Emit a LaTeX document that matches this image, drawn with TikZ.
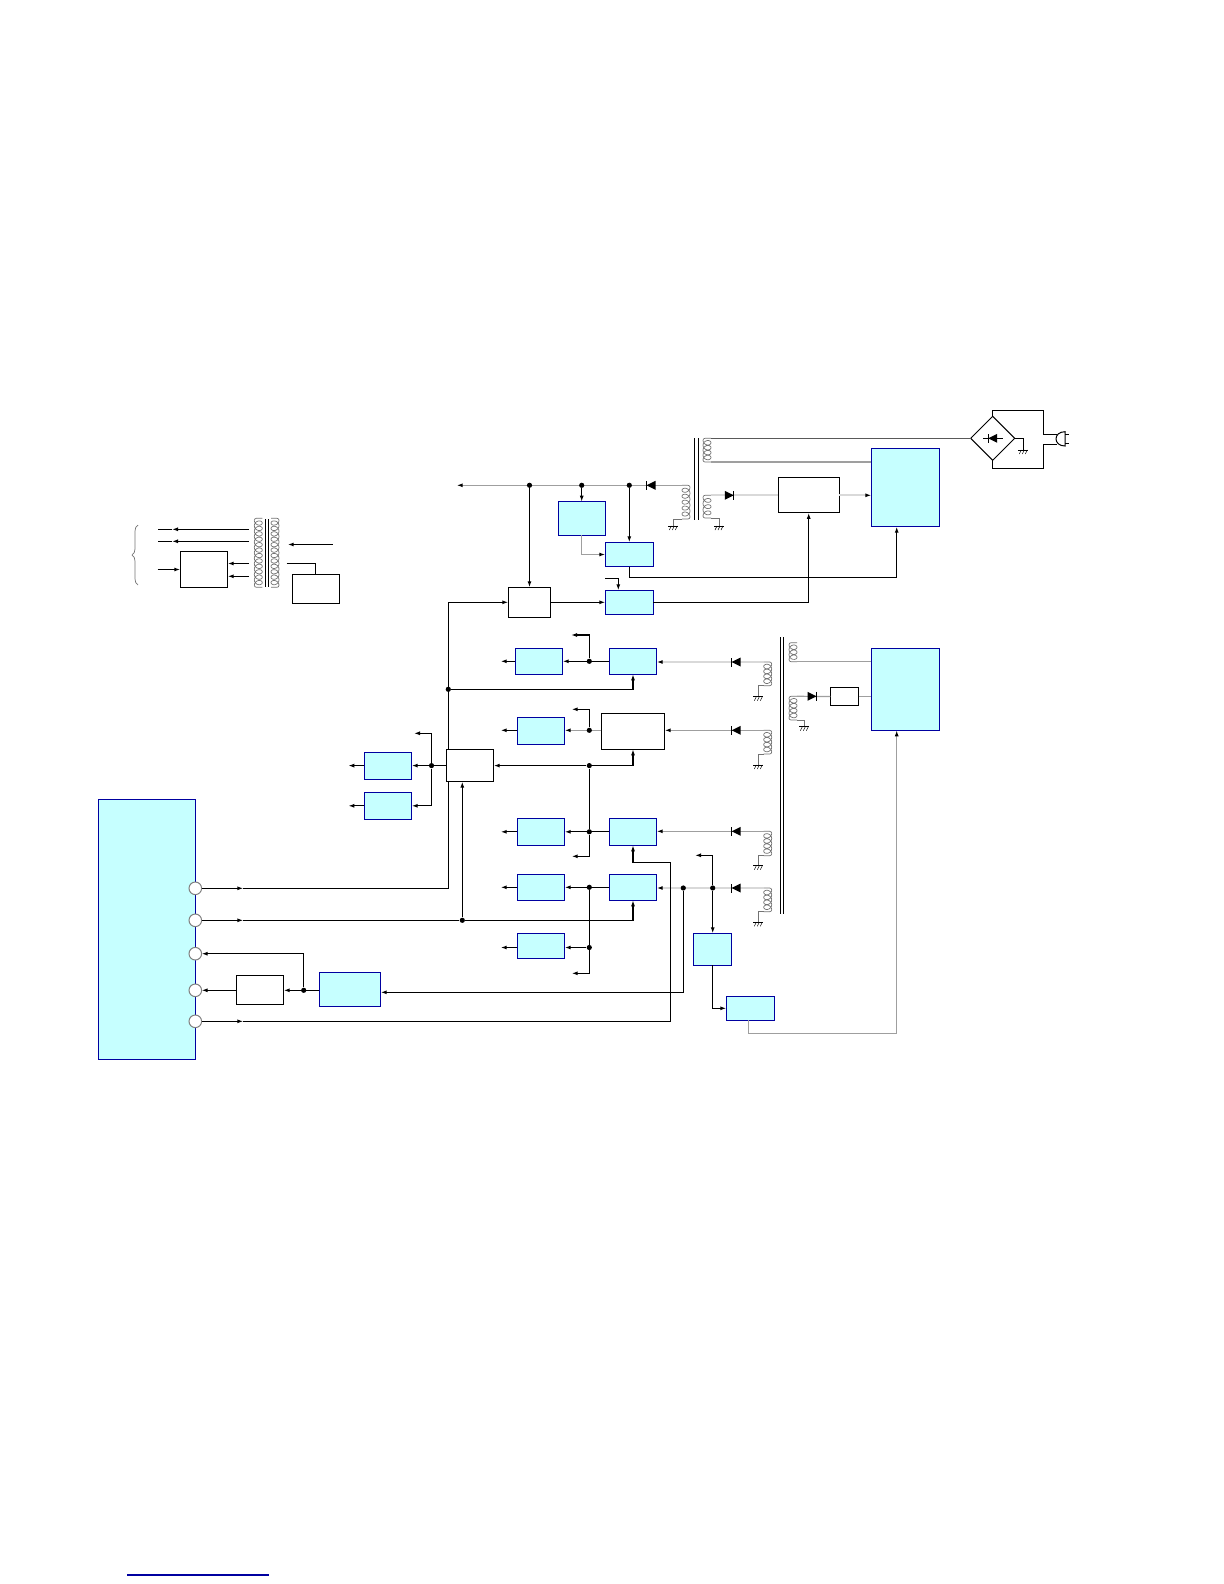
\documentclass[tikz,border=0pt]{standalone}
\usetikzlibrary{arrows.meta,shapes.geometric,decorations.pathreplacing}
\definecolor{boxfill}{RGB}{198,255,255}
\definecolor{boxline}{RGB}{0,0,160}
\tikzset{
    sz/.style 2 args={minimum width=#1*0.5pt, minimum height=#2*0.5pt},
    bluebox/.style={draw=boxline, fill=boxfill, line width=0.6pt, inner sep=0pt, outer sep=0pt},
    whitebox/.style={draw=black, fill=white, line width=0.6pt, inner sep=0pt, outer sep=0pt},
    wire/.style={line width=0.6pt},
    grayline/.style={line width=0.6pt, gray!75},
    lightline/.style={line width=1pt, gray!30},
    coilline/.style={line width=0.35pt, gray!90!black},
    tip/.style={-{Latex[length=3pt,width=2pt,color=black]}},
    dot/.style={circle, fill=black, inner sep=0pt, minimum size=2.6pt},
    pinring/.style={circle, draw=gray, fill=white, line width=0.5pt, inner sep=0pt, outer sep=0pt, minimum size=6.3pt},
    diode/.pic={
        \fill[black] (-4.5,-4.5) -- (-4.5,4.5) -- (4.5,0) -- cycle;
        \draw[line width=0.5pt] (4.5,-4.5) -- (4.5,4.5);
    },
    gnd/.pic={
        \draw[line width=0.5pt] (-5,0) -- (5,0);
        \draw[line width=0.25pt] (-2,0) -- (-4,4) (1,0) -- (-1,4) (4,0) -- (2,4);
    }
}
% winding: edge x, top y, bottom y, side (+1/-1), name
\newcommand{\winding}[5]{
    \pgfmathtruncatemacro{\coilturns}{round((#3-#2-4)/5.5)}
    \pgfmathtruncatemacro{\coilsamples}{\coilturns*16+1}
    \draw[coilline, rounded corners=1pt] (#1+#4*8,#2) -- (#1,#2) -- (#1,#2+2);
    \draw[coilline, rounded corners=1pt] (#1+#4*8,#3) -- (#1,#3) -- (#1,#3-2);
    \draw[coilline, variable=\t, samples=\coilsamples, domain=0:\coilturns*360, smooth]
        plot ({#1+#4*4*(1-cos(\t))}, {#2+2+\t/(360*\coilturns)*(#3-#2-4)+3.4*sin(\t)});
    \coordinate (#5t) at (#1+#4*8,#2);
    \coordinate (#5b) at (#1+#4*8,#3);
}
\begin{document}
\begin{tikzpicture}[x=0.5pt, y=-0.5pt]
    \useasboundingbox (0,0) rectangle (1224,1584);
    % blue blocks
    \node[bluebox, sz={97}{260}] (main) at (146.8,929.5) {};
    \node[bluebox, sz={68}{78.4}] (ctlA) at (905.3,487.5) {};
    \node[bluebox, sz={68}{82}] (ctlB) at (905.3,689.3) {};
    \node[bluebox, sz={47}{33.6}] (regTop) at (581.7,518.5) {};
    \node[bluebox, sz={48}{24.4}] (regA) at (629.3,554.5) {};
    \node[bluebox, sz={48}{24}] (regB) at (629.3,602.3) {};
    \node[bluebox, sz={47.4}{26}] (outA) at (539,661.3) {};
    \node[bluebox, sz={47.4}{26}] (regC) at (633,661.3) {};
    \node[bluebox, sz={47.4}{27}] (outB) at (541,730.8) {};
    \node[bluebox, sz={47.4}{27}] (outC) at (541,831.8) {};
    \node[bluebox, sz={47.4}{27}] (regD) at (633,831.8) {};
    \node[bluebox, sz={47.4}{26}] (outD) at (541,887.3) {};
    \node[bluebox, sz={47.4}{26}] (regE) at (633,887.3) {};
    \node[bluebox, sz={47.4}{25}] (outE) at (541,945.8) {};
    \node[bluebox, sz={47.4}{27}] (outF) at (388,765.6) {};
    \node[bluebox, sz={47.4}{27}] (outG) at (388,805.8) {};
    \node[bluebox, sz={38.4}{32}] (swA) at (712.5,949.3) {};
    \node[bluebox, sz={48.4}{24}] (swB) at (750.5,1008.3) {};
    \node[bluebox, sz={61.4}{34}] (drv) at (350,989.3) {};
    % white blocks
    \node[whitebox, sz={61}{35}] (stb) at (808.8,495.3) {};
    \node[whitebox, sz={42}{30}] (selA) at (529.3,602.3) {};
    \node[whitebox, sz={63.4}{36}] (selB) at (633,731.3) {};
    \node[whitebox, sz={47.4}{32}] (selC) at (470,765.6) {};
    \node[whitebox, sz={47.4}{29}] (amp) at (260,990.3) {};
    \node[whitebox, sz={28.4}{18.6}] (fbk) at (844.5,696.5) {};
    \node[whitebox, sz={47.4}{36.4}] (tapBox) at (204,569.5) {};
    \node[whitebox, sz={47}{29}] (auxBox) at (315.8,588.8) {};
    % pins on the main block
    \node[pinring] (pinA) at (195.3,888.3) {};
    \node[pinring] (pinB) at (195.3,920.3) {};
    \node[pinring] (pinC) at (195.3,953.7) {};
    \node[pinring] (pinD) at (195.3,990.3) {};
    \node[pinring] (pinE) at (195.3,1021.3) {};
    % junctions
    \node[dot] (jA) at (448.3,689.3) {};
    \node[dot] (jB) at (589.3,765.6) {};
    \node[dot] (jC) at (589.3,831.8) {};
    \node[dot] (jD) at (589.3,887.3) {};
    \node[dot] (jE) at (462.3,920.3) {};
    \node[dot] (jF) at (431.5,765.6) {};
    \node[dot] (jG) at (589.3,947.5) {};
    \node[dot] (jI) at (589.3,661.3) {};
    \node[dot] (jL) at (303.7,990.3) {};
    % free ends and corners
    \coordinate (railEnd) at (456.7,485.3);
    \coordinate (busA) at (448.3,888.3);
    \coordinate (busE) at (670.7,1021.3);
    \coordinate (busF) at (670.7,862.7);
    \coordinate (tickA) at (243.3,888.3);
    \coordinate (tickB) at (243.3,920.3);
    \coordinate (tickE) at (243.3,1021.3);
    \coordinate (drvIn) at (380.7,992.3);
    \coordinate (retA) at (896.7,577.3);
    \coordinate (retS) at (808.7,602.3);
    \coordinate (retB) at (748.7,1033.3);
    \coordinate (retC) at (896.7,1033.3);
    \coordinate (stubB) at (605.3,578.3);
    \coordinate (stubC) at (618.3,590.3);
    \coordinate (endA) at (500.7,661.3);
    \coordinate (endB) at (500.7,730.3);
    \coordinate (endC) at (500.7,831.8);
    \coordinate (endD) at (500.7,887.3);
    \coordinate (endE) at (500.7,947.5);
    \coordinate (endF) at (348.3,765.6);
    \coordinate (endG) at (348.3,805.8);
    \coordinate (upF) at (414,733.3);
    \coordinate (upH) at (571.7,709.3);
    \coordinate (upI) at (571,635);
    \coordinate (dnC) at (571.7,856.3);
    \coordinate (dnE) at (571.7,973.3);
    \coordinate (upK) at (695,855.3);
    % upper transformer
    \draw[wire] (694.3,438) -- (694.3,519.5);
    \draw[wire] (698.7,438) -- (698.7,519.5);
    \winding{703}{438.3}{462}{1}{priA}
    \winding{703}{495.3}{518}{1}{secB}
    \winding{690}{485.3}{519}{-1}{secA}
    \node[diamond, draw, aspect=1, sz={44}{44}, inner sep=0pt, outer sep=0pt, line width=0.5pt] (bridge) at (992.7,438.3) {};
    \draw[grayline, black!65] (priAt) -- (bridge.west);
    \draw[grayline] (priAb) -- (ctlA.west |- priAb);
    \draw[lightline] (secBt) -- (stb.west);
    \draw[lightline, tip] (stb.east) -- (ctlA.west |- stb.east);
    \draw[grayline, tip] (secAt) -- (railEnd);
    \node[dot] (jrA) at (529.5,485.3) {};
    \node[dot] (jrB) at (581.7,485.3) {};
    \node[dot] (jrC) at (629.3,485.3) {};
    \pic at (729.3,495.3) {diode};
    \pic[rotate=180] at (651,485.3) {diode};
    \coordinate (gndA) at (673.3,526);
    \coordinate (gndB) at (719,526);
    \coordinate (gndC) at (1023.3,450);
    \draw[coilline] (secAb) -| (gndA);
    \draw[coilline] (secBb) -| (gndB);
    \pic at (gndA) {gnd};
    \pic at (gndB) {gnd};
    % bridge and plug
    \pic[rotate=180] at (992.7,438.3) {diode};
    \draw[line width=0.5pt] (983.3,438.3) -- (1002.7,438.3);
    \coordinate (brT) at (1043.3,410.3);
    \coordinate (brB) at (1043.3,468.3);
    \coordinate (plugA) at (1056.7,434.3);
    \coordinate (plugB) at (1056.7,444.3);
    \draw[wire] (bridge.north) |- (brT) |- (plugA);
    \draw[wire] (bridge.south) |- (brB) |- (plugB);
    \draw[wire] (bridge.east) -| (gndC);
    \pic at (gndC) {gnd};
    \draw[line width=0.5pt] (1065,431.7) .. controls (1053,431.7) and (1053,446) .. (1065,446) -- cycle;
    \draw[line width=0.5pt] (1065,434.3) -- (1069,434.3) (1065,443.3) -- (1069,443.3);
    % rail and top regulators
    \draw[wire, tip] (jrA) -- (selA.north -| jrA);
    \draw[wire, tip] (jrB) -- (regTop.north);
    \draw[wire, tip] (jrC) -- (regA.north);
    \draw[grayline, tip] (regTop.south) |- (regA.west);
    \draw[wire] (regA.south) |- (retA);
    \draw[wire, tip] (retA) -- (ctlA.south -| retA);
    \draw[wire] (regB.east) -- (retS);
    \draw[wire, tip] (retS) -- (stb.south -| retS);
    \draw[wire, tip] (stubB) -| (regB.north -| stubC);
    \draw[wire, tip] (selA.east) -- (regB.west);
    % lower transformer
    \draw[wire] (780.3,637.3) -- (780.3,914);
    \draw[wire] (783.3,637.3) -- (783.3,914);
    \winding{771.7}{662}{685.7}{-1}{secC}
    \winding{771.7}{730.3}{754}{-1}{secD}
    \winding{771.7}{831.3}{855.7}{-1}{secE}
    \winding{771.7}{888}{911.7}{-1}{secF}
    \winding{789}{642.7}{661.7}{1}{secG}
    \winding{789}{696.3}{720}{1}{secH}
    \draw[lightline, tip] (secCt) -- (regC.east |- secCt);
    \draw[grayline, tip] (secDt) -- (selB.east |- secDt);
    \draw[grayline, tip] (secEt) -- (regD.east |- secEt);
    \draw[lightline, tip] (secFt) -- (regE.east |- secFt);
    \node[dot] (jJ) at (683.3,888) {};
    \node[dot] (jK) at (712.7,888) {};
    \draw[grayline] (secGb) -- (ctlB.west |- secGb);
    \draw[grayline] (secHt) -- (fbk.west);
    \draw[grayline] (fbk.east) -- (ctlB.west |- fbk.east);
    \pic[rotate=180] at (736.2,662) {diode};
    \pic[rotate=180] at (736.2,730.3) {diode};
    \pic[rotate=180] at (736.2,831.3) {diode};
    \pic[rotate=180] at (736.2,888) {diode};
    \pic at (812,696.3) {diode};
    \coordinate (gndD) at (758.3,696.7);
    \coordinate (gndE) at (758.3,765);
    \coordinate (gndF) at (758.3,865.7);
    \coordinate (gndG) at (758.3,922.3);
    \coordinate (gndH) at (804.3,726.7);
    \draw[coilline] (secCb) -| (gndD);
    \draw[coilline] (secDb) -| (gndE);
    \draw[coilline] (secEb) -| (gndF);
    \draw[coilline] (secFb) -| (gndG);
    \draw[coilline] (secHb) -| (gndH);
    \pic at (gndD) {gnd};
    \pic at (gndE) {gnd};
    \pic at (gndF) {gnd};
    \pic at (gndG) {gnd};
    \pic at (gndH) {gnd};
    % output rows
    \draw[wire, tip] (outA.west) -- (endA);
    \draw[wire, tip] (outB.west |- endB) -- (endB);
    \draw[wire, tip] (outC.west) -- (endC);
    \draw[wire, tip] (outD.west) -- (endD);
    \draw[wire, tip] (outE.west |- endE) -- (endE);
    \draw[wire, tip] (outF.west) -- (endF);
    \draw[wire, tip] (outG.west) -- (endG);
    \draw[wire, tip] (regC.west) -- (outA.east);
    \draw[wire, tip] (jI) |- (upI);
    \draw[grayline, tip] (selB.west |- endB) -- (outB.east |- endB);
    \node[dot] (jH) at (589.3,730.3) {};
    \draw[wire, tip] (jH) |- (upH);
    \draw[wire, tip] (regD.west) -- (outC.east);
    \draw[wire, tip] (jC) |- (dnC);
    \draw[wire] (jB) -- (jC);
    \draw[wire, tip] (regE.west) -- (outD.east);
    \draw[wire, tip] (jD) |- (dnE);
    \draw[wire, tip] (jG) -- (outE.east |- jG);
    \draw[wire, tip] (jB) -- (selC.east);
    \draw[wire, tip] (jB) -| (selB.south);
    \draw[wire, tip] (selC.west) -- (outF.east);
    \draw[wire, tip] (jF) |- (upF);
    \draw[wire, tip] (jF) |- (outG.east);
    % bus wires from the pins
    \draw[wire, tip] (pinA) -- (tickA);
    \draw[wire] (tickA) -- (busA) -- (selC.south -| busA);
    \draw[wire, tip] (selC.north -| busA) |- (selA.west);
    \draw[wire, tip] (jA) -| (regC.south);
    \draw[wire, tip] (pinB) -- (tickB);
    \draw[wire] (tickB) -- (jE);
    \draw[wire, tip] (jE) -| (regE.south);
    \draw[wire, tip] (jE) -- (selC.south -| jE);
    \draw[wire, tip] (pinE) -- (tickE);
    \draw[wire] (tickE) -- (busE) -- (busF);
    \draw[wire, tip] (busF) -| (regD.south);
    % switch branch
    \draw[wire, tip] (jK) -- (swA.north -| jK);
    \draw[wire, tip] (jK) |- (upK);
    \draw[wire, tip] (swA.south -| jK) |- (swB.west);
    \draw[grayline] (swB.south -| retB) -- (retB) -- (retC);
    \draw[grayline, tip] (retC) -- (ctlB.south -| retC);
    \draw[wire, tip] (jJ) |- (drvIn);
    \draw[wire, tip] (drv.west |- jL) -- (amp.east);
    \draw[wire, tip] (amp.west) -- (pinD.east);
    \draw[wire, tip] (jL) |- (pinC.east);
    % small transformer, upper left
    \draw[wire] (265.3,519) -- (265.3,586.5);
    \draw[wire] (268.3,519) -- (268.3,586.5);
    \winding{254.3}{518.3}{587.3}{1}{winL}
    \winding{279}{518.3}{587.3}{-1}{winR}
    \coordinate (tapA) at (249,529.3);
    \coordinate (tapB) at (249,541.3);
    \coordinate (tapC) at (249,563.5);
    \coordinate (tapD) at (249,576.3);
    \coordinate (midA) at (172,529.3);
    \coordinate (midB) at (172,541.3);
    \coordinate (leftA) at (157.7,529.3);
    \coordinate (leftB) at (157.7,541.3);
    \coordinate (leftC) at (157.7,569.5);
    \coordinate (feedA) at (332.7,544.5);
    \coordinate (feedB) at (287.7,544.5);
    \coordinate (feedC) at (286.7,563.3);
    \draw[wire, tip] (tapA) -- (midA);
    \draw[wire] (midA) -- (leftA);
    \draw[wire, tip] (tapB) -- (midB);
    \draw[wire] (midB) -- (leftB);
    \draw[wire, tip] (leftC) -- (tapBox.west);
    \draw[wire, tip] (tapC) -- (tapBox.east |- tapC);
    \draw[wire, tip] (tapD) -- (tapBox.east |- tapD);
    \draw[wire, tip] (feedA) -- (feedB);
    \draw[wire] (feedC) -| (auxBox.north);
    \draw[coilline, decorate, decoration={brace,amplitude=3pt}] (138,585) -- (138,525);
    % rule at the foot of the page
    \draw[boxline, line width=0.8pt] (127,1575) -- (269,1575);
\end{tikzpicture}
\end{document}
